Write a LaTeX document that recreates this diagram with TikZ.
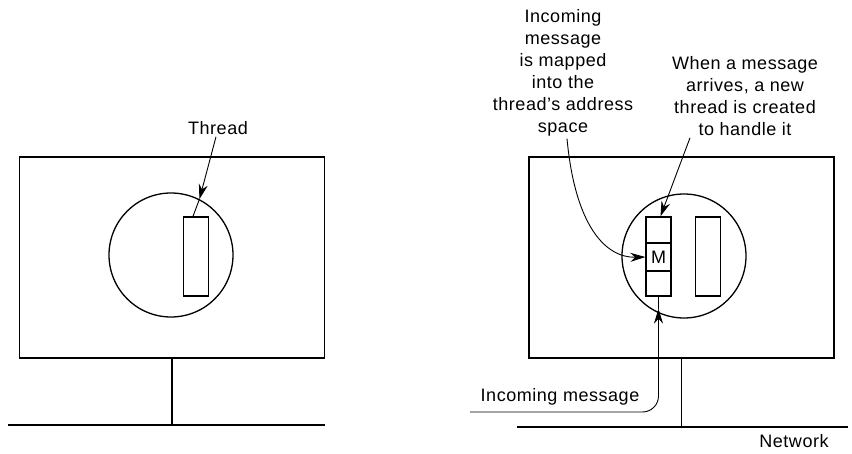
\documentclass[tikz,border=0pt]{standalone}
\usepackage{fontspec}
\setmainfont[LetterSpace=3]{Liberation Sans}
\usepackage{tikz}
\usetikzlibrary{arrows.meta}

\begin{document}
\begin{tikzpicture}[
  x=1pt, y=-1pt,
  font=\fontsize{18}{22}\selectfont,
  host/.style={draw, line width=1.7pt, minimum width=305pt, minimum height=201pt, inner sep=0pt},
  proc/.style={draw, circle, line width=1.3pt, minimum size=124pt, inner sep=0pt},
  thr/.style={draw, line width=1.3pt, minimum width=25pt, minimum height=79pt, inner sep=0pt},
  wire/.style={line width=1.7pt},
  lbl/.style={align=center, inner sep=2pt},
  conn/.style={line width=0.9pt},
  arr/.style={-{Stealth[length=15pt, width=9pt]}, line width=0.9pt}
]
\useasboundingbox (0,0) rectangle (852,454);

% left machine
\node[host] (hostL) at (172,257.5) {};
\node[proc] (cpuL) at (171,255) {};
\node[thr] (thrL) at (196,256.5) {};
\node[lbl] (thrTxt) at (218,128) {Thread};
\coordinate (netL1) at (8,425);
\coordinate (netL2) at (325,425);

\draw[wire] (netL1) -- (netL2);
\draw[wire] (hostL.south) -- (hostL.south |- netL1);
\draw[arr] ([xshift=-2pt]thrTxt.south) -- (cpuL.63);
\draw[conn] (cpuL.63) -- ([xshift=-3pt]thrL.north);

% right machine
\node[host] (hostR) at (681.5,257.5) {};
\node[proc] (cpuR) at (684,256) {};
\node[thr] (thrR1) at (658.5,256.5) {};
\node[thr] (thrR2) at (708,256.5) {};
\node[draw, line width=1.3pt, minimum width=25pt, minimum height=28pt, inner sep=0pt] (msg) at (658.5,257) {M};
\coordinate (netR1) at (517,427);
\coordinate (netR2) at (848,427);
\coordinate (inEnd) at (470,412);

\node[lbl] (mapTxt) at (563,73) {Incoming\\message\\is mapped\\into the\\thread's address\\space};
\node[lbl] (newTxt) at (745,96) {When a message\\arrives, a new\\thread is created\\to handle it};
\node[lbl] (inTxt) at (560,397) {Incoming message};
\node[lbl] (netTxt) at (794,441) {Network};

\draw[wire] (netR1) -- (netR2);
\draw[wire] (hostR.south) -- (hostR.south |- netR1);
\draw[arr] ([xshift=4pt]mapTxt.south) .. controls (575,225) and (605,258) .. (msg.west);
\draw[arr] ([xshift=-55pt]newTxt.south) -- ([xshift=2pt]thrR1.north);
\draw[arr, rounded corners=16pt] (inEnd) -- (inEnd -| thrR1) -- ([yshift=-12pt]thrR1.south);
\draw[conn] ([yshift=-12pt]thrR1.south) -- (thrR1.south);
\end{tikzpicture}
\end{document}
